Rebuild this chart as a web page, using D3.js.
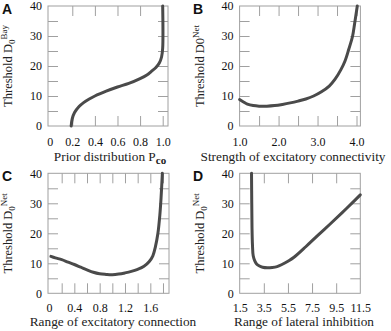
<!DOCTYPE html>
<html><head><meta charset="utf-8">
<script src="https://cdn.jsdelivr.net/npm/d3@7"></script>
<style>body{margin:0;background:#fff}svg{display:block}</style>
</head><body>
<script>
// ---- data ----
const pcoA = [0.19,0.20,0.22,0.26,0.30,0.35,0.40,0.50,0.60,0.70,0.80,0.86,0.90,0.94,0.97,0.99,1.0,1.0];
const dA   = [0,2.5,4.5,6.5,7.8,9.0,10.0,11.6,13.0,14.2,15.8,17.0,18.2,19.5,21.0,23.0,26.0,40];

const strengthB = [1.0,1.1,1.2,1.35,1.5,1.7,1.9,2.1,2.3,2.5,2.7,2.9,3.1,3.3,3.45,3.6,3.7,3.8,3.9,3.95,4.02];
const dB        = [8.8,8.0,7.3,6.8,6.6,6.6,6.8,7.2,7.7,8.3,9.0,10.0,11.4,13.3,15.6,18.8,21.5,25.5,30,34,40];

const rangeC = [0.03,0.1,0.2,0.3,0.4,0.5,0.6,0.7,0.8,0.9,1.0,1.1,1.2,1.3,1.4,1.5,1.58,1.64,1.68,1.72,1.75,1.77,1.79];
const dC     = [12.3,11.8,11.2,10.4,9.6,8.7,7.8,7.0,6.5,6.3,6.2,6.4,6.8,7.3,8.0,9.0,10.5,12.5,15.5,20,26,32,40];

const inhibD = [2.48,2.5,2.52,2.56,2.62,2.75,2.9,3.1,3.4,3.8,4.2,4.6,5.0,5.5,6.0,7.0,8.0,9.0,10.0,11.0,11.5];
const dD     = [40,30,22,16,12.5,10.8,9.8,9.2,8.7,8.5,8.6,8.9,9.6,10.7,12.0,15.6,19.4,23.1,26.9,30.8,32.8];

const yTickLabels = [0,10,20,30,40];
const yTickMarks = [5,10,15,20,25,30,35];
const xLabelsA = [0,0.2,0.4,0.6,0.8,1.0];
const xMarksA = [0.2,0.4,0.6,0.8,1.0];
const xLabelsB = [1.0,2.0,3.0,4.0];
const xMarksB = [1.5,2.0,2.5,3.0,3.5,4.0];
const xLabelsC = [0,0.4,0.8,1.2,1.6];
const xMarksC = [0.2,0.4,0.6,0.8,1.0,1.2,1.4,1.6,1.8];
const xLabelsD = [1.5,3.5,5.5,7.5,9.5,11.5];
const xMarksD = [3.5,5.5,7.5,9.5];

const svg = d3.select("body").append("svg").attr("width",391).attr("height",331);
const SERIF = "'Liberation Serif', 'Times New Roman', serif";

const panels = [
  {letter:"A", box:[48,168,6,126], xd:[-0.015,1.047], xs:pcoA, ys:dA, xl:xLabelsA, xm:xMarksA, fmt:d=>d===0?"0":d3.format(".1f")(d),
   ylab:[["Threshold D",0,12.5],["0",3,9],["Bay",-8,9]], xlab:[["Prior distribution P",0,13.3,"normal"],["co",3,11,"bold"]], lx:2, ytx:12, xtb:146, xtt:161, xtc:110},
  {letter:"B", box:[239.6,360.4,6,126], xd:[1.0,4.1], xs:strengthB, ys:dB, xl:xLabelsB, xm:xMarksB, fmt:d3.format(".1f"),
   ylab:[["Threshold D0",0,12.5],["Net",-5,9]], xlab:[["Strength of excitatory connectivity",0,13.3,"normal"]], lx:193, ytx:204, xtb:146, xtt:161, xtc:293},
  {letter:"C", box:[48,169,173.3,293.3], xd:[-0.016,1.895], xs:rangeC, ys:dC, xl:xLabelsC, xm:xMarksC, fmt:d=>d===0?"0":d3.format(".1f")(d),
   ylab:[["Threshold D",0,12.5],["0",3,9],["Net",-8,9]], xlab:[["Range of excitatory connection",0,13.3,"normal"]], lx:2, ytx:12, xtb:312, xtt:326, xtc:113},
  {letter:"D", box:[239.7,360.3,173.3,293.3], xd:[1.5,11.5], xs:inhibD, ys:dD, xl:xLabelsD, xm:xMarksD, fmt:d3.format(".1f"),
   ylab:[["Threshold D",0,12.5],["0",3,9],["Net",-8,9]], xlab:[["Range of lateral inhibition",0,13.3,"normal"]], lx:193, ytx:204, xtb:312, xtt:326, xtc:304}
];

panels.forEach(p=>{
  const [x0,x1,y0,y1] = p.box;
  const x = d3.scaleLinear().domain(p.xd).range([x0,x1]);
  const y = d3.scaleLinear().domain([0,40]).range([y1,y0]);
  const g = svg.append("g");

  const tickStyle = sel=>{ sel.select(".domain").remove(); sel.selectAll("line").attr("stroke","#a0a0a0").attr("stroke-width",1); sel.selectAll("text").remove(); };
  g.append("g").attr("transform",`translate(0,${y1})`).call(d3.axisBottom(x).tickValues(p.xm).tickSize(-10).tickFormat("")).call(tickStyle);
  g.append("g").attr("transform",`translate(0,${y0})`).call(d3.axisTop(x).tickValues(p.xm).tickSize(-10).tickFormat("")).call(tickStyle);
  g.append("g").attr("transform",`translate(${x0},0)`).call(d3.axisLeft(y).tickValues(yTickMarks).tickSize(-10).tickFormat("")).call(tickStyle);
  g.append("g").attr("transform",`translate(${x1},0)`).call(d3.axisRight(y).tickValues(yTickMarks).tickSize(-10).tickFormat("")).call(tickStyle);

  g.append("rect").attr("x",x0).attr("y",y0).attr("width",x1-x0).attr("height",y1-y0)
    .attr("fill","none").attr("stroke","#a0a0a0").attr("stroke-width",1);

  const lblStyle = sel=>{ sel.attr("font-family",SERIF).attr("font-size",12); sel.select(".domain").remove(); sel.selectAll("line").remove();
    sel.selectAll("text").style("font-family",SERIF).style("font-size","12px").attr("fill","#111"); };
  const xa = g.append("g").attr("transform",`translate(0,${p.xtb})`)
    .call(d3.axisBottom(x).tickValues(p.xl).tickSize(0).tickPadding(0).tickFormat(p.fmt)).call(lblStyle);
  xa.selectAll("text").attr("dy",0).attr("y",0);
  g.append("g").attr("transform",`translate(${x0},0)`)
    .call(d3.axisLeft(y).tickValues(yTickLabels).tickSize(0).tickPadding(6).tickFormat(d3.format("d"))).call(lblStyle);

  const pts = p.xs.map((v,i)=>[v,p.ys[i]]);
  g.append("path").datum(pts)
    .attr("d", d3.line().x(d=>x(d[0])).y(d=>y(d[1])).curve(d3.curveCatmullRom.alpha(0.5)))
    .attr("fill","none").attr("stroke","#4a4a4a").attr("stroke-width",3).attr("stroke-linecap","round");

  const yt = g.append("text").attr("transform",`translate(${p.ytx},${(y0+y1)/2}) rotate(-90)`)
    .attr("text-anchor","middle").style("font-family",SERIF).attr("fill","#222");
  p.ylab.forEach(([t,dy,fs])=>yt.append("tspan").attr("dy",dy).attr("font-size",fs).text(t));

  const xt = g.append("text").attr("x",p.xtc).attr("y",p.xtt).attr("text-anchor","middle")
    .style("font-family",SERIF).attr("fill","#222");
  p.xlab.forEach(([t,dy,fs,fw])=>xt.append("tspan").attr("dy",dy).attr("font-size",fs).attr("font-weight",fw).text(t));

  svg.append("text").attr("x",p.lx).attr("y",y0+8).style("font-family","'Liberation Sans', Arial, sans-serif")
    .attr("font-weight","bold").attr("font-size",14).attr("fill","#111").text(p.letter);
});
</script>
</body></html>
